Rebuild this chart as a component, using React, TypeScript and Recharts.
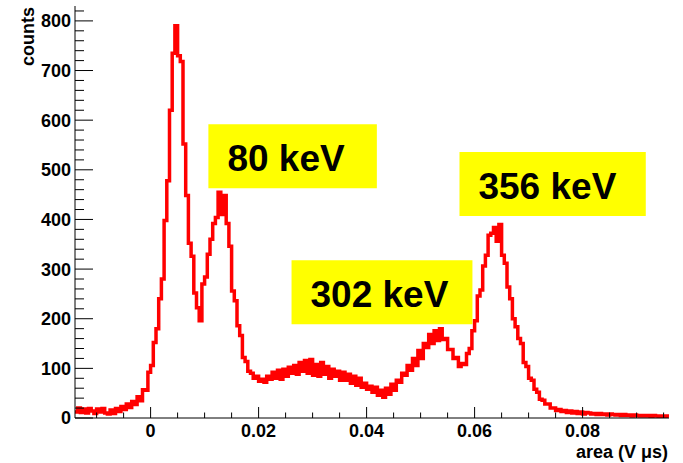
import { LineChart, Line, XAxis, YAxis, ReferenceArea } from "recharts";

// histogram binning (area in V us)
const BIN_START = -0.014;
const BIN_WIDTH = 0.0005;
const X_MAX = 0.096;
const Y_MAX = 830;

// counts per bin
const COUNTS = [
  12, 20, 11, 18, 10, 19, 14, 9, 18, 12,
  19, 10, 8, 16, 9, 19, 13, 23, 17, 28,
  21, 33, 27, 43, 35, 57, 56, 92, 106, 152,
  180, 240, 280, 398, 478, 620, 735, 790, 730, 718,
  552, 448, 352, 326, 252, 222, 196, 270, 284, 330,
  360, 392, 404, 455, 410, 448, 392, 346, 256, 236,
  186, 166, 122, 114, 94, 90, 80, 84, 74, 78,
  72, 84, 78, 92, 80, 96, 78, 98, 84, 102,
  90, 106, 88, 112, 94, 116, 90, 118, 86, 108,
  84, 112, 88, 104, 80, 98, 84, 94, 76, 92,
  76, 88, 70, 84, 66, 80, 62, 70, 58, 64,
  52, 62, 46, 56, 42, 60, 48, 68, 56, 76,
  72, 90, 86, 106, 96, 120, 106, 136, 120, 150,
  142, 168, 150, 176, 156, 180, 158, 160, 138, 138,
  120, 122, 104, 110, 108, 130, 140, 176, 196, 246,
  258, 306, 328, 368, 372, 384, 356, 390, 328, 312,
  264, 240, 200, 184, 160, 150, 112, 104, 80, 76,
  58, 52, 38, 36, 28, 28, 20, 20, 15, 17,
  13, 15, 11, 14, 10, 13, 9, 12, 8, 11,
  10, 8, 9, 7, 9, 7, 8, 6, 8, 7,
  6, 7, 5, 7, 5, 6, 4, 6, 5, 4,
  5, 4, 5, 3, 5, 4, 3, 4, 3, 4,
];

const X_TICKS = [
  -0.01, -0.005, 0, 0.005, 0.01, 0.015, 0.02, 0.025, 0.03, 0.035, 0.04, 0.045,
  0.05, 0.055, 0.06, 0.065, 0.07, 0.075, 0.08, 0.085, 0.09, 0.095,
];
const Y_TICKS = [
  0, 20, 40, 60, 80, 100, 120, 140, 160, 180, 200, 220, 240, 260, 280, 300,
  320, 340, 360, 380, 400, 420, 440, 460, 480, 500, 520, 540, 560, 580, 600,
  620, 640, 660, 680, 700, 720, 740, 760, 780, 800, 820,
];

// peak annotations
const PEAK_LABELS = ["80 keV", "302 keV", "356 keV"];
const PEAK_BOXES = [
  { x1: 0.0107, x2: 0.0419, y1: 463, y2: 592 },
  { x1: 0.0261, x2: 0.0596, y1: 189, y2: 318 },
  { x1: 0.0572, x2: 0.0917, y1: 407, y2: 536 },
];

const FONT = '"Liberation Sans", Arial, Helvetica, sans-serif';

const data = COUNTS.map((c, i) => ({ x: BIN_START + i * BIN_WIDTH, counts: c }));
data.push({ x: X_MAX, counts: COUNTS[COUNTS.length - 1] });

const isMajor = (v: number, step: number) =>
  Math.abs(v / step - Math.round(v / step)) < 1e-6;

function XTick({ x, y, payload }: any) {
  const v = payload.value;
  const major = isMajor(v, 0.02);
  return (
    <g>
      <line x1={x} x2={x} y1={y} y2={y - (major ? 11 : 5.5)} stroke="#000" />
      {major && (
        <text x={x} y={y + 19} textAnchor="middle" fontFamily={FONT} fontWeight="bold" fontSize={18} fill="#000">
          {v === 0 ? "0" : v.toFixed(2)}
        </text>
      )}
    </g>
  );
}

function YTick({ x, y, payload }: any) {
  const v = payload.value;
  const major = v % 100 === 0;
  return (
    <g>
      <line x1={x} x2={x + (major ? 18 : 9)} y1={y} y2={y} stroke="#000" />
      {major && (
        <text x={x - 4} y={y} dy="0.36em" textAnchor="end" fontFamily={FONT} fontWeight="bold" fontSize={18} fill="#000">
          {v}
        </text>
      )}
    </g>
  );
}

function BoxText({ viewBox, text }: any) {
  return (
    <text
      x={viewBox.x + 19}
      y={viewBox.y + viewBox.height / 2 + 15}
      fontFamily={FONT}
      fontWeight="bold"
      fontSize={37}
      fill="#000"
    >
      {text}
    </text>
  );
}

export default function App() {
  return (
    <div style={{ position: "absolute", left: 0, top: 0, background: "#fff" }}>
      <LineChart width={683} height={463} data={data} margin={{ top: 6, right: 14, bottom: 0, left: 0 }}>
        <XAxis
          dataKey="x"
          type="number"
          domain={[BIN_START, X_MAX]}
          ticks={X_TICKS}
          interval={0}
          height={45}
          tickSize={0}
          tickMargin={0}
          tickLine={false}
          tick={<XTick />}
          axisLine={{ stroke: "#000" }}
          allowDataOverflow
          label={(p: any) => (
            <text
              x={p.viewBox.x + p.viewBox.width - 1}
              y={458}
              textAnchor="end"
              fontFamily={FONT}
              fontWeight="bold"
              fontSize={18}
              fill="#000"
            >
              area (V μs)
            </text>
          )}
        />
        <XAxis xAxisId="top" orientation="top" type="number" domain={[BIN_START, X_MAX]} height={0} tick={false} tickLine={false} axisLine={{ stroke: "#000" }} />
        <YAxis
          type="number"
          domain={[0, Y_MAX]}
          ticks={Y_TICKS}
          interval={0}
          width={75}
          tickSize={0}
          tickMargin={0}
          tickLine={false}
          tick={<YTick />}
          axisLine={{ stroke: "#000" }}
          allowDataOverflow
          label={() => (
            <text
              x={34}
              y={7}
              transform="rotate(-90, 34, 7)"
              textAnchor="end"
              fontFamily={FONT}
              fontWeight="bold"
              fontSize={18}
              fill="#000"
            >
              counts
            </text>
          )}
        />
        <YAxis yAxisId="right" orientation="right" type="number" domain={[0, Y_MAX]} width={0} tick={false} tickLine={false} axisLine={{ stroke: "#000" }} />
        <Line
          type="stepAfter"
          dataKey="counts"
          stroke="#ff0000"
          strokeWidth={3.5}
          dot={false}
          isAnimationActive={false}
        />
        {PEAK_BOXES.map((b, i) => (
          <ReferenceArea
            key={PEAK_LABELS[i]}
            x1={b.x1}
            x2={b.x2}
            y1={b.y1}
            y2={b.y2}
            fill="#ffff00"
            fillOpacity={1}
            stroke="none"
            ifOverflow="visible"
            label={(p: any) => <BoxText viewBox={p.viewBox} text={PEAK_LABELS[i]} />}
          />
        ))}
      </LineChart>
    </div>
  );
}
